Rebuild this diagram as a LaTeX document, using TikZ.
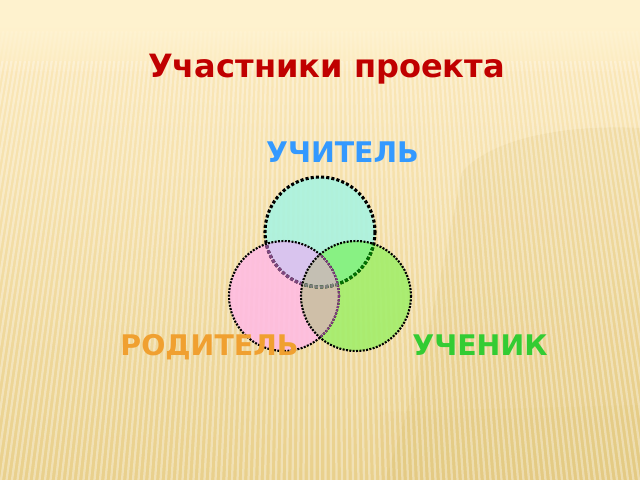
\documentclass[tikz,border=0pt]{standalone}
\usepackage{fontspec}
\setmainfont{DejaVu Sans}
\usepackage{tikz}
\usetikzlibrary{calc,positioning}
\definecolor{bgtop}{HTML}{FEF2CE}
\definecolor{bgmid}{HTML}{FBE8BA}
\definecolor{bgbot}{HTML}{E9D08C}
\definecolor{swoosh}{HTML}{D9BC6C}
\definecolor{teal}{HTML}{A9F3E0}
\definecolor{pinkish}{HTML}{FFBCE2}
\definecolor{lime}{HTML}{A3EE6B}
\definecolor{lavender}{HTML}{D6C5F0}
\definecolor{brightgreen}{HTML}{86F285}
\definecolor{tan}{HTML}{D4BBAE}
\definecolor{middle}{HTML}{C4C0B4}
\definecolor{titlered}{HTML}{C00000}
\definecolor{teachblue}{HTML}{3399FF}
\definecolor{parentorange}{HTML}{F0A030}
\definecolor{pupilgreen}{HTML}{33CC33}
\tikzset{
  topring/.style={line width=2.2pt,line cap=butt,dash pattern=on 2.2pt off 1.5pt},
  sidering/.style={line width=1.5pt,line cap=butt,dash pattern=on 1.4pt off 1pt},
  label/.style={font=\bfseries\fontsize{20.2}{21}\selectfont,anchor=base},
  stripe/.style={white,line width=1.6pt,opacity=0.35}
}

\begin{document}
\begin{tikzpicture}[x=0.025cm,y=-0.025cm,line cap=round,line join=round]
  % ---- page window (640 x 480, y going down) ----
  \useasboundingbox (0,0) rectangle (640,480);

  % ---- background ----
  \fill[bgtop] (0,0) rectangle (640,40);
  \shade[top color=bgmid,bottom color=bgbot] (0,40) rectangle (640,480);
  \shade[top color=bgtop,bottom color=bgmid] (0,25) rectangle (640,70);
  \fill[swoosh,opacity=0.18] (640,128) .. controls (560,124) and (490,140) .. (462,172)
    .. controls (445,260) and (420,380) .. (385,480) -- (640,480) -- cycle;
  \fill[swoosh,opacity=0.10] (380,412) -- (640,405) -- (640,480) -- (380,480) -- cycle;

  % stripes fanning out a little towards the bottom
  \foreach \x in {-120,-114.5,...,780} {
    \draw[stripe] ({320+(\x-320)*0.8},32) -- (\x,480);
  }
  \shade[top color=bgtop,bottom color=bgtop!50!bgmid,opacity=0.7] (0,28) rectangle (640,60);

  % ---- circle centres ----
  \coordinate (teacher) at (320,232);
  \coordinate (parent) at (284,296);
  \coordinate (pupil) at (356,296);
  \def\r{55}

  % ---- fills ----
  \begin{scope}[fill opacity=0.9]
    \fill[teal] (teacher) circle (\r);
    \fill[pinkish] (parent) circle (\r);
    \fill[lime] (pupil) circle (\r);
    \begin{scope}
      \clip (teacher) circle (\r);
      \fill[lavender] (parent) circle (\r);
      \fill[brightgreen] (pupil) circle (\r);
    \end{scope}
    \begin{scope}
      \clip (parent) circle (\r);
      \fill[tan] (pupil) circle (\r);
      \clip (pupil) circle (\r);
      \fill[middle] (teacher) circle (\r);
    \end{scope}
  \end{scope}

  % ---- rings ----
  \draw[topring] (teacher) circle (\r);
  \draw[sidering] (parent) circle (\r);

  % parts of the rings seen through the other circles
  \begin{scope}
    \clip (parent) circle (\r);
    \draw[topring,draw=violet!45!gray] (teacher) circle (\r);
  \end{scope}
  \begin{scope}
    \clip (pupil) circle (\r);
    \draw[topring,draw=green!45!black] (teacher) circle (\r);
    \draw[sidering,draw=violet!55!gray] (parent) circle (\r);
    \clip (parent) circle (\r);
    \draw[topring,draw=gray] (teacher) circle (\r);
  \end{scope}
  \draw[sidering] (pupil) circle (\r);

  % ---- texts ----
  \node[titlered,font=\bfseries\fontsize{22.8}{23}\selectfont,anchor=base] (title) at (326.5,77) {Участники проекта};
  \node[label,teachblue] (teacherlabel) at (342.5,162) {УЧИТЕЛЬ};
  \node[label,parentorange] (parentlabel) at (209.5,355) {РОДИТЕЛЬ};
  \node[label,pupilgreen] (pupillabel) at (480,355) {УЧЕНИК};
\end{tikzpicture}
\end{document}
